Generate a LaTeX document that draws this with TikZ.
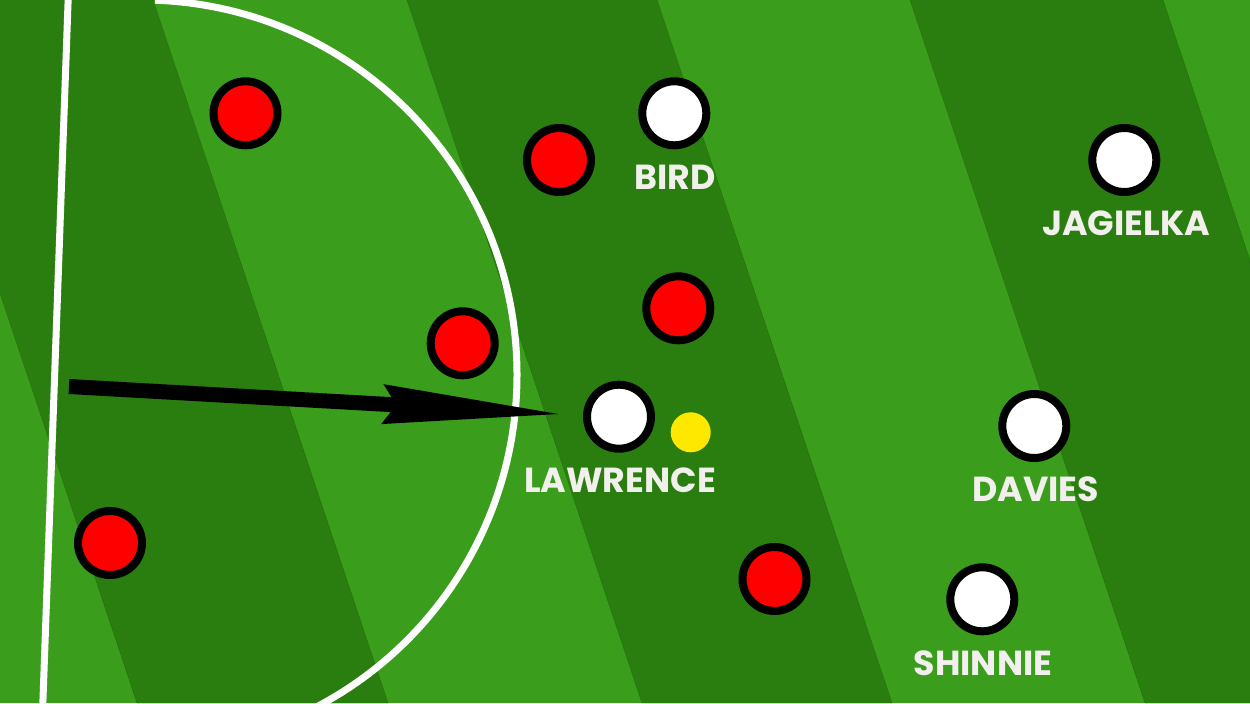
\documentclass[tikz,border=0pt]{standalone}
\usepackage{fontspec}
\newfontfamily\tagfont{Poppins}
\usetikzlibrary{arrows.meta}
\definecolor{turflight}{HTML}{3A9D1C}
\definecolor{turfdark}{HTML}{2A7E10}
\definecolor{turfedge}{HTML}{23700B}
\definecolor{tagwhite}{HTML}{F2F0ED}
\definecolor{ballyellow}{HTML}{FFE800}
\begin{document}
\begin{tikzpicture}[x=0.02cm, y=-0.02cm,
  red player/.style={circle, draw=black, line width=0.16cm, fill=red, minimum size=1.28cm, inner sep=0pt},
  white player/.style={circle, draw=black, line width=0.16cm, fill=white, minimum size=1.28cm, inner sep=0pt},
  ball/.style={circle, fill=ballyellow, minimum size=0.8cm, inner sep=0pt},
  nametag/.style={text=tagwhite, anchor=base, inner sep=0pt, font=\tagfont\bfseries\fontsize{19.8}{20}\selectfont},
  pitch line/.style={white, line width=0.14cm},
  run/.style={line width=0.3cm, -{Stealth[length=3.52cm, width=0.8cm, inset=0.28cm, line width=0pt]}}]
\useasboundingbox (0,0) rectangle (1250,703);
\clip (0,0) rectangle (1250,703);
% grass
\fill[turflight] (0,0) rectangle (1250,703);
\foreach \a/\b in {-98/153, 407/657, 910/1163}
  \filldraw[turfdark, draw=turfedge, line width=0.2pt] (\a,0) -- (\b,0) -- (\b+235,703) -- (\a+235,703) -- cycle;
% markings
\draw[pitch line] (68.5,-10) -- (42.5,713);
\draw[pitch line] (142,375) ++(-88:375) arc[start angle=-88, end angle=72, radius=375];
% run
\coordinate (runstart) at (69,386.5);
\coordinate (runend) at (558,414);
\draw[run] (runstart) -- (runend);
% reds
\node[red player] (r1) at (245.5,113.3){};
\node[red player] (r2) at (559,160){};
\node[red player] (r3) at (462.7,343.3){};
\node[red player] (r4) at (678.3,308.3){};
\node[red player] (r5) at (110,543){};
\node[red player] (r6) at (774.5,579){};
% whites
\node[white player] (bird) at (674.3,113.3){};
\node[white player] (jagielka) at (1124.3,160){};
\node[white player] (lawrence) at (619,416.7){};
\node[white player] (davies) at (1034.3,426){};
\node[white player] (shinnie) at (982.3,599.3){};
\node[ball] (ball) at (690.7,432.3){};
% names
\node[nametag] (tbird) at (675,189) {BIRD};
\node[nametag] (tjagielka) at (1126,235.7) {JAGIELKA};
\node[nametag] (tlawrence) at (620,492.3) {LAWRENCE};
\node[nametag] (tdavies) at (1035.7,501.7) {DAVIES};
\node[nametag] (tshinnie) at (983,675) {SHINNIE};

\end{tikzpicture}
\end{document}
